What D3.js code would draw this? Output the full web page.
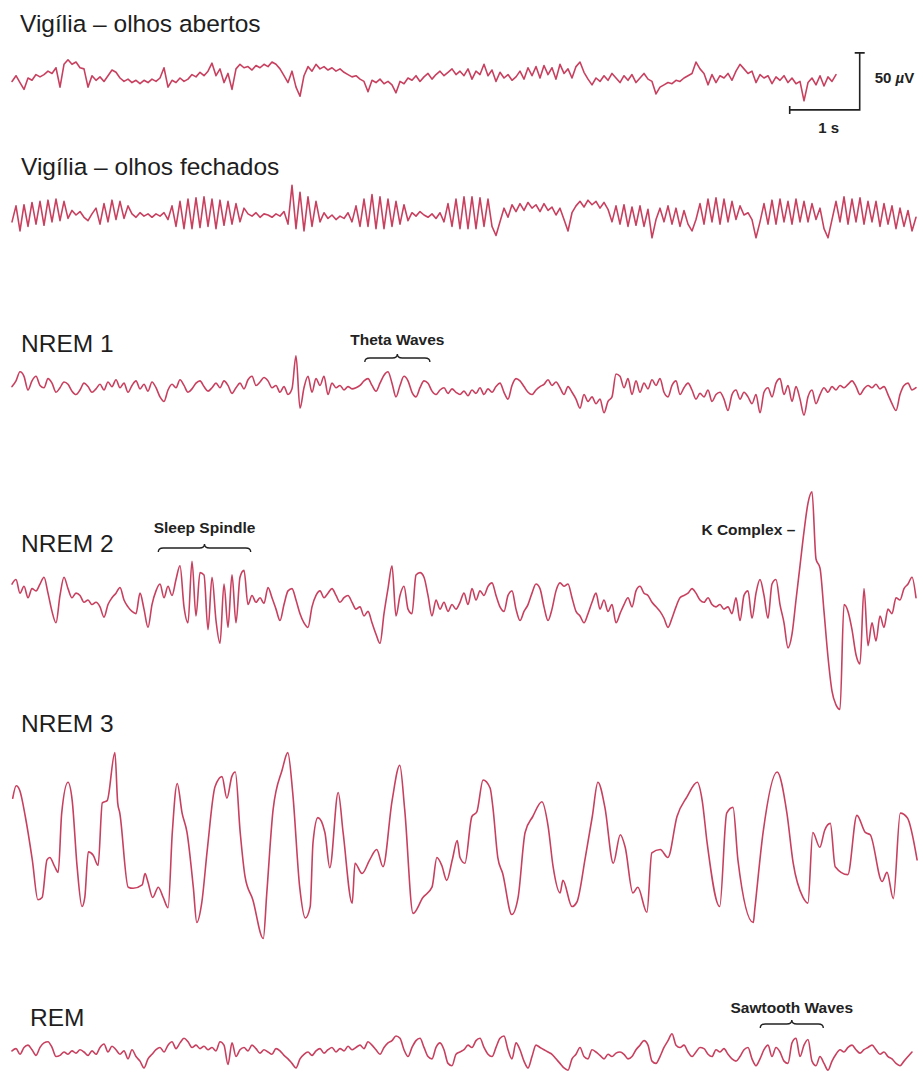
<!DOCTYPE html>
<html><head><meta charset="utf-8">
<script src="https://cdn.jsdelivr.net/npm/d3@7/dist/d3.min.js"></script>
<style>body{margin:0;background:#fff}svg{display:block}</style>
</head><body><svg id="c" width="923" height="1072"></svg>
<script>
// ---------------- DATA ----------------
const stages = ["Vigília – olhos abertos", "Vigília – olhos fechados", "NREM 1", "NREM 2", "NREM 3", "REM"];
const fs = 17.5; // samples per second of the uniformly read traces
// amplitudes in µV
const awakeOpen = [-3,2,-4,-10,0,-2,3,1, 3,6,4,9,-8,12,16, 12,14,9,8,-8,
 2,-2,1,-3,2,7,5,0,-3,-1,-4,-2,-5,-2,-4,-1,-3,0, 9,-8, -2,-4,0,-3,
 -1,3,1,5,2,6,13,2,8,-4,4,-10, 8,12,9,10,7,11,9,12,10,14,12, 8,2,-4,6,-8,-16,
 2,10,6,12,8,10,7,9,6,8, 5,3,1,2,-1,-3,-12,-2,-4,-1,-5,-3,-6,-13,
 -3,-5,0,-2,2,-3,1,4,-1,3,6,2,5,8,3,6, 2,8,-1,6,3,12,2,7,-3,5,0,3,-2,1,
 6,-1,9,2,10,0,11,3,9,-1,12,4,8,0,10,14,5, -1,-6,0,-3,2,-2,4,0,-4,2,-2,3,-4,0,4,-1,-3,
 -14,-8, -6,-4,-5,-2,-3,0,2,4, 14,
 8,4,-6,3,-4,2,0,4,-2,6,12,8,4,6,-4,3,0,2,-5,1,-2,2,-4,0,
 -5,-3,-20,-4,0,-6,2,-7,1,-3,3];
const awakeClosed = [-6,8,-14,9,-10,11,-8,12,-9,13,-6,14,-5,12,-3, 4,0,3,-2,-5,1,
 6,-8,10,-6,13,-4,12,-3,8, 1,-2,2,-1,1,-2,1,-1,2,
 -4,8,-10,12,-12,14,-12,15,-11,16,-10,14,-12,13,-9,12,-8,10,-6,6, 1,-1,2,-2,1,0,-2,1,-1,
 3,-8,26,-12,20,-14,16,-10,12,-6, 2,-3,0,-4,-1,-3,2,
 -6,8,-10,14,-10,18,-12,16,-12,14,-10,12,-8,9,-5, 2,-1,3,0,-2,1,-3,2,
 -6,10,-10,14,-12,16,-12,16,-12,15,-10,14,-10,-18,
 -6,6,-2,9,3,10,4,11,6,9,3,10,4,7,0,6,-4, -14,2, 8,12,7,13,9,12,6,11,5,
 -6,8,-8,9,-10,7,-9,8,-10,5, -20, -4,6,-6,8,-8,6,-10,4,-8, -14,-4,
 10,-8,14,-6,15,-8,14,-6,12,-4,8,0, 2,-4,-20,
 -6,10,-8,13,-8,14,-6,12,-8,14,-6,12,-6,10,-4,6, -12,-20,
 -4,12,-6,16,-8,14,-6,15,-8,12,-6,12,-10,10,-8,8,-12,6, -10,4,-14,-2];
const nrem1 = [3,8,16,12,0,8,12,4,2,10,6,-2,2,7,5,-1,-4,0,6,3,
 -2,1,5,0,7,3,9,2,6,-2,4,8,1,5,-1,7,2,-6,-10,0,
 5,2,9,4,-2,1,6,8,3,-1,2,6,2,8,4,-3,2,6,1,9,
 12,4,7,11,8,2,4,-2,3,-4,1,30,-16,2,12,-2,10,4,12,-4,
 6,2,4,0,3,1,2,4,8,10,4,-1,6,13,16,6,-6,4,12,8,
 -2,-6,2,8,6,-1,-4,0,2,-3,1,-2,-4,-1,-5,0,-3,2,-4,1,
 -2,3,6,-2,-8,4,10,8,3,-2,-4,0,3,5,9,4,7,2,-4,3,
 -2,-8,-16,-4,-10,-6,-12,-8,-20,-10,-6,14,12,2,10,-4,8,-2,6,1,
 9,4,10,-2,-6,4,8,-4,2,6,0,-8,-3,-6,0,-10,-4,-2,-8,-18,
 -4,0,-8,-2,-6,-12,-4,-20,-2,2,-6,6,10,-4,4,-10,3,-8,-22,-6,
 0,-12,-4,2,-2,3,0,4,2,5,8,3,-4,1,4,2,5,1,3,-4,
 -12,-18,-4,4,6,0,2];
const nrem2 = [14,18,6,12,2,10,8,14,20,6,-10,-20,4,20,10,2,6,4,-2,0,
 -4,-2,-6,-15,-4,2,6,11,0,-6,-10,-12,6,-8,-24,-4,8,14,2,12,
 4,18,30,-6,-20,34,-14,24,22,-26,20,-18,-38,14,-24,22,-20,20,26,-4,
 4,-2,2,-3,11,2,-8,-18,-4,8,10,0,-12,-20,-24,-6,4,8,2,6,
 10,4,-2,2,4,-2,-8,-6,-14,-10,-20,-30,-38,-12,10,30,-14,4,12,-8,
 -12,22,24,20,4,-14,0,-8,-2,-10,-4,-8,-2,6,-4,10,0,8,4,12,
 15,4,-6,-10,4,8,-8,-18,-10,-4,6,14,10,-6,-18,-8,8,15,12,14,
 2,-10,-14,-20,-12,-2,6,-8,0,-10,-4,-20,-12,-4,2,-6,8,12,6,4,
 -2,-6,-10,-16,-24,-16,-6,2,4,6,10,6,0,-2,2,-4,-6,-4,-8,-6,
 -12,2,-18,4,8,-16,6,18,4,-16,14,18,-4,-20,-42,-30,0,30,60,85,
 95,36,28,-10,-50,-80,-92,-96,-4,-10,-26,-48,-56,10,-40,-20,-36,-14,-24,-8,
 -12,2,0,10,14,20,2];
// NREM 3 read as turning points: [time s, µV]
const nrem3 = [[0.01,41],[0.06,52],[0.11,48],[0.19,25],[0.29,-13],[0.37,-48],[0.43,-46],[0.50,-13],[0.54,-11],[0.61,-19],[0.66,-24],
 [0.71,28],[0.80,55],[0.86,39],[0.93,-19],[1.00,-54],[1.04,-46],[1.09,-6],[1.16,-9],[1.23,-18],[1.29,37],[1.36,39],[1.47,81],
 [1.51,37],[1.54,28],[1.66,-37],[1.73,-38],[1.86,-35],[1.90,-25],[1.94,-32],[2.01,-46],[2.09,-37],[2.16,-46],[2.23,-55],
 [2.29,11],[2.36,54],[2.43,28],[2.50,11],[2.59,-37],[2.64,-68],[2.71,-51],[2.79,-4],[2.90,51],[3.00,60],[3.07,41],[3.14,60],[3.19,64],
 [3.26,11],[3.33,-28],[3.44,-48],[3.59,-82],[3.64,-42],[3.73,31],[3.86,66],[3.94,81],[4.01,46],[4.11,-37],[4.19,-64],[4.26,-54],
 [4.30,2],[4.37,24],[4.47,11],[4.54,-20],[4.66,46],[4.73,11],[4.86,-51],[4.90,-16],[5.00,-25],[5.11,-13],[5.21,-4],[5.30,-19],
 [5.43,39],[5.54,70],[5.61,31],[5.73,-60],[5.87,-46],[6.00,-37],[6.07,-11],[6.14,-18],[6.21,-31],[6.29,-13],[6.36,4],
 [6.40,-11],[6.47,-16],[6.57,25],[6.64,29],[6.73,57],[6.83,50],[6.87,33],[6.94,-11],[7.01,-25],[7.14,-61],[7.23,-46],
 [7.33,11],[7.44,25],[7.57,38],[7.66,16],[7.73,-19],[7.83,-42],[7.87,-31],[8.00,-54],[8.07,-50],[8.19,-11],[8.29,25],[8.37,55],
 [8.47,33],[8.59,-16],[8.69,9],[8.76,-2],[8.87,-42],[8.94,-37],[9.07,-59],[9.14,-7],[9.26,-4],[9.37,-11],[9.50,25],[9.64,42],
 [9.79,55],[9.86,39],[9.93,2],[10.11,-54],[10.21,28],[10.30,33],[10.37,-13],[10.59,-68],[10.61,-57],[10.73,11],[10.93,64],
 [11.07,28],[11.16,-16],[11.30,-46],[11.37,-51],[11.44,11],[11.54,-2],[11.61,13],[11.69,19],[11.76,-19],[11.94,-26],[12.07,26],
 [12.19,11],[12.26,9],[12.43,-32],[12.50,-24],[12.59,-47],[12.69,28],[12.79,24],[12.93,-13]];
const rem = [1,3,-2,4,6,2,-3,4,8,9,4,-4,-3,0,-2,1,-1,2,0,-3,
 1,-2,4,7,0,5,2,-2,1,-6,2,-4,-8,-14,-6,-2,2,4,0,6,
 9,3,8,12,9,4,6,3,5,2,4,1,9,6,-11,8,-4,2,4,1,
 6,3,-1,2,0,-2,3,1,-3,-6,-10,-14,-6,-2,0,-3,1,3,-1,2,
 4,0,3,1,5,2,4,6,3,9,6,2,-2,4,8,10,14,12,2,-4,
 4,10,12,4,-4,-6,4,8,2,-10,-12,-2,0,2,6,4,10,12,4,-2,
 -4,4,12,14,2,-6,8,2,-8,-14,-4,6,4,2,0,-2,-6,-10,-14,-16,
 -6,-2,4,-4,-6,2,0,-3,-6,-2,-4,-1,0,-2,-6,-4,2,6,10,6,
 -8,-10,-4,4,10,16,6,4,6,0,-4,0,4,3,-2,-4,2,0,3,-2,
 -6,-8,-4,2,4,-6,-12,-6,2,6,-4,4,0,-8,-10,8,12,-4,6,11,
 -8,-12,-4,-10,-16,-8,-2,2,0,4,6,2,-1,2,4,6,2,-2,0,-4,
 -6,-10,-12,-8,-4,0];
const annotations = [
 {stage: "NREM 1", text: "Theta Waves", t0: 5.04, t1: 5.97},
 {stage: "NREM 2", text: "Sleep Spindle", t0: 2.09, t1: 3.41},
 {stage: "REM", text: "Sawtooth Waves", t0: 10.69, t1: 11.59}
];
const kComplex = {stage: "NREM 2", text: "K Complex –", t: 11.19};
const scaleBar = {t: 11.11, seconds: 1, uV: 50, base: -28};

// ---------------- DRAW ----------------
const svg = d3.select("#c");
const x = d3.scaleLinear().domain([0, 13]).range([12, 922]);
const amp = d3.scaleLinear().domain([-50, 50]).range([57, -57]);
const color = "#c8405f";
const font = "'Liberation Sans', Arial, Helvetica, sans-serif";

const layout = [
 {center: 78, labelY: 32, labelX: 20, curve: d3.curveLinear},
 {center: 215, labelY: 175, labelX: 21, curve: d3.curveLinear},
 {center: 390, labelY: 352, labelX: 21, curve: d3.curveMonotoneX},
 {center: 600, labelY: 552, labelX: 21, curve: d3.curveMonotoneX},
 {center: 845, labelY: 732, labelX: 21, curve: d3.curveMonotoneX},
 {center: 1052, labelY: 1026, labelX: 30, curve: d3.curveMonotoneX}
];
const uniform = v => v.map((d, i) => [i / fs, d]);
const traces = [uniform(awakeOpen), uniform(awakeClosed), uniform(nrem1), uniform(nrem2), nrem3, uniform(rem)];

stages.forEach((name, k) => {
  const L = layout[k];
  svg.append("text").attr("x", L.labelX).attr("y", L.labelY)
    .attr("font-family", font).attr("font-size", 24.5).attr("fill", "#1e1e1e").text(name);
  const line = d3.line().x(d => x(d[0])).y(d => amp(d[1])).curve(L.curve);
  const g = svg.append("g").attr("transform", `translate(0,${L.center})`);
  g.append("path").datum(traces[k])
    .attr("d", line)
    .attr("fill", "none").attr("stroke", color).attr("stroke-width", 1.6)
    .attr("stroke-linejoin", "round").attr("stroke-linecap", "round");
});

// braces with labels
const annotLayout = {"NREM 1": {textY: 345, braceY: 358}, "NREM 2": {textY: 533, braceY: 548}, "REM": {textY: 1013, braceY: 1024}};
annotations.forEach(a => {
  const A = annotLayout[a.stage];
  const x0 = x(a.t0), x1 = x(a.t1), xm = (x0 + x1) / 2, y = A.braceY;
  const p = `M${x0},${y+4} Q${x0},${y} ${x0+5},${y} L${xm-5},${y} Q${xm},${y} ${xm},${y-4} Q${xm},${y} ${xm+5},${y} L${x1-5},${y} Q${x1},${y} ${x1},${y+4}`;
  svg.append("path").attr("d", p).attr("fill", "none").attr("stroke", "#222").attr("stroke-width", 1.4);
  svg.append("text").attr("x", xm).attr("y", A.textY).attr("text-anchor", "middle")
    .attr("font-family", font).attr("font-weight", "bold").attr("font-size", 15.5).attr("fill", "#222").text(a.text);
});
svg.append("text").attr("x", x(kComplex.t)).attr("y", 535).attr("text-anchor", "end")
  .attr("font-family", font).attr("font-weight", "bold").attr("font-size", 15.5).attr("fill", "#222").text(kComplex.text);

// scale bar (in trace 1 coordinates)
const sb = svg.append("g").attr("transform", `translate(0,${layout[0].center})`).attr("stroke", "#222").attr("stroke-width", 1.6).attr("fill", "none");
const sx0 = x(scaleBar.t), sx1 = x(scaleBar.t + scaleBar.seconds);
const sy0 = amp(scaleBar.base), sy1 = amp(scaleBar.base + scaleBar.uV);
sb.append("path").attr("d", `M${sx0},${sy0-4} L${sx0},${sy0+4} M${sx0},${sy0} L${sx1},${sy0} L${sx1},${sy1} M${sx1-5},${sy1} L${sx1+5},${sy1}`);
const t50 = svg.append("text").attr("x", sx1 + 15).attr("y", 83).attr("font-family", font).attr("font-weight", "bold").attr("font-size", 15).attr("fill", "#222");
t50.append("tspan").text("50 ");
t50.append("tspan").attr("font-style", "italic").text("µ");
t50.append("tspan").text("V");
svg.append("text").attr("x", (sx0 + sx1) / 2 + 4).attr("y", 133).attr("text-anchor", "middle")
  .attr("font-family", font).attr("font-weight", "bold").attr("font-size", 15).attr("fill", "#222").text("1 s");
</script></body></html>
